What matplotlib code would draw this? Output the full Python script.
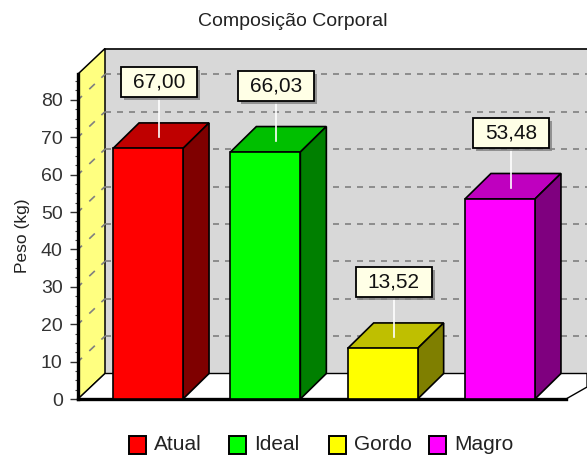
import matplotlib
matplotlib.use('Agg')
import matplotlib.pyplot as plt
import matplotlib.patheffects as pe
from matplotlib.patches import Polygon, Rectangle

plt.rcParams['font.family'] = ['Liberation Sans', 'DejaVu Sans']

names = ['Atual', 'Ideal', 'Gordo', 'Magro']
values = [67.00, 66.03, 13.52, 53.48]
labels = ['67,00', '66,03', '13,52', '53,48']
front = ['#ff0000', '#00ff00', '#ffff00', '#ff00ff']
top = ['#bf0000', '#00bf00', '#bfbf00', '#bf00bf']
side = ['#7f0000', '#007f00', '#7f7f00', '#7f007f']
ticks = [0, 10, 20, 30, 40, 50, 60, 70, 80]
minor_ticks = [2.5 * k for k in range(35)]

W, H = 587, 458
fig = plt.figure(figsize=(W / 100, H / 100), dpi=100)
# axes box is the front face of the 3d box, in pixels
ax = fig.add_axes([78 / W, 1 - 399 / H, (566 - 78) / W, (399 - 74) / H])
ax.set_xlim(-0.597, 3.563)
ax.set_ylim(0, 86.9)
ax.patch.set_visible(False)

xs = 117.3   # pixels per x unit
ys = 3.74    # pixels per y unit
dx = 26 / xs
dy = 25.5 / ys
wall_dx = 27 / xs
xl, xr = ax.get_xlim()
ymax = ax.get_ylim()[1]
xend = xl + (587 - 78) / xs

# back wall, side wall, floor
ax.add_patch(Polygon([(xl + wall_dx, dy), (xend, dy), (xend, ymax + dy), (xl + wall_dx, ymax + dy)],
                     fc='#d8d8d8', ec='none', clip_on=False, zorder=1))
ax.plot([xl + wall_dx, xend], [ymax + dy, ymax + dy], color='#222222', lw=1.4, clip_on=False, zorder=2)
ax.add_patch(Polygon([(xl, 0), (xl + wall_dx, dy), (xl + wall_dx, ymax + dy), (xl, ymax)],
                     fc='#ffff80', ec='black', lw=1.1, clip_on=False, zorder=2))
ax.add_patch(Polygon([(xl, 0), (xl + wall_dx, dy), (xend, dy), (xend, 3.2), (xr, 0)],
                     fc='white', ec='black', lw=1, clip_on=False, zorder=2))

# gridlines on the wall
for t in ticks[1:]:
    ax.plot([xl + wall_dx, xend], [t + dy, t + dy], color='#808080', lw=1.2, ls=(0, (3.6, 3.6)),
            clip_on=False, zorder=2)
    ax.plot([xl, xl + wall_dx], [t, t + dy], color='#808080', lw=1.2, ls=(0, (3.3, 6, 4.6, 5.4, 3.3, 100)),
            clip_on=False, zorder=3)

bw = 70 / xs
box_w = 76 / xs
box_h = 30 / ys
for i, v in enumerate(values):
    x0 = i - bw / 2
    x1 = i + bw / 2
    ax.bar(i, v, width=bw, color=front[i], edgecolor='black', lw=1.2, zorder=5)
    ax.add_patch(Polygon([(x0, v), (x1, v), (x1 + dx, v + dy), (x0 + dx, v + dy)],
                         fc=top[i], ec='black', lw=1.2, clip_on=False, zorder=4))
    ax.add_patch(Polygon([(x1, 0), (x1 + dx, dy), (x1 + dx, v + dy), (x1, v)],
                         fc=side[i], ec='black', lw=1.2, clip_on=False, zorder=4))
    # leader and value box
    lx = i + 0.095
    box_y = v + 13.7
    ax.plot([lx, lx], [v + 3, box_y], color='white', lw=1.2, zorder=6, clip_on=False)
    box = Rectangle((lx - box_w / 2, box_y), box_w, box_h, fc='#ffffe6', ec='black', lw=1.3,
                    clip_on=False, zorder=7)
    box.set_path_effects([pe.SimplePatchShadow(offset=(2, -2), shadow_rgbFace='#808080', alpha=0.8),
                          pe.Normal()])
    ax.add_patch(box)
    ax.text(lx, box_y + box_h / 2, labels[i], ha='center', va='center', fontsize=15,
            color='#111111', zorder=8)

ax.set_xticks([])
ax.set_yticks(ticks)
ax.set_yticks(minor_ticks, minor=True)
ax.tick_params(axis='y', which='major', length=6, width=1, labelsize=14, pad=5, colors='#333333')
ax.tick_params(axis='y', which='minor', length=2, width=0.8, colors='#444444')
for s in ['top', 'right']:
    ax.spines[s].set_visible(False)
ax.spines['left'].set_linewidth(2.4)
ax.spines['bottom'].set_linewidth(2.4)
ax.spines['left'].set_zorder(7)
ax.spines['bottom'].set_zorder(3)
fig.text(23 / W, 1 - 236 / H, 'Peso (kg)', rotation=90, ha='center', va='center', fontsize=12.5,
         color='#222222')

fig.text(293 / W, 1 - 21 / H, 'Composição Corporal', ha='center', va='center', fontsize=14, color='#222222')

# legend
legend_x = [129, 229, 329, 429]
text_x = [154, 254, 354, 454]
for i, n in enumerate(names):
    fig.add_artist(Rectangle((legend_x[i] / W, 1 - 454 / H), 17 / W, 18 / H, fc=front[i], ec='black',
                             lw=1.4, transform=fig.transFigure))
    fig.text(text_x[i] / W, 1 - 445 / H, n, ha='left', va='center', fontsize=15, color='#222222')

fig.savefig('out.png', dpi=100)
